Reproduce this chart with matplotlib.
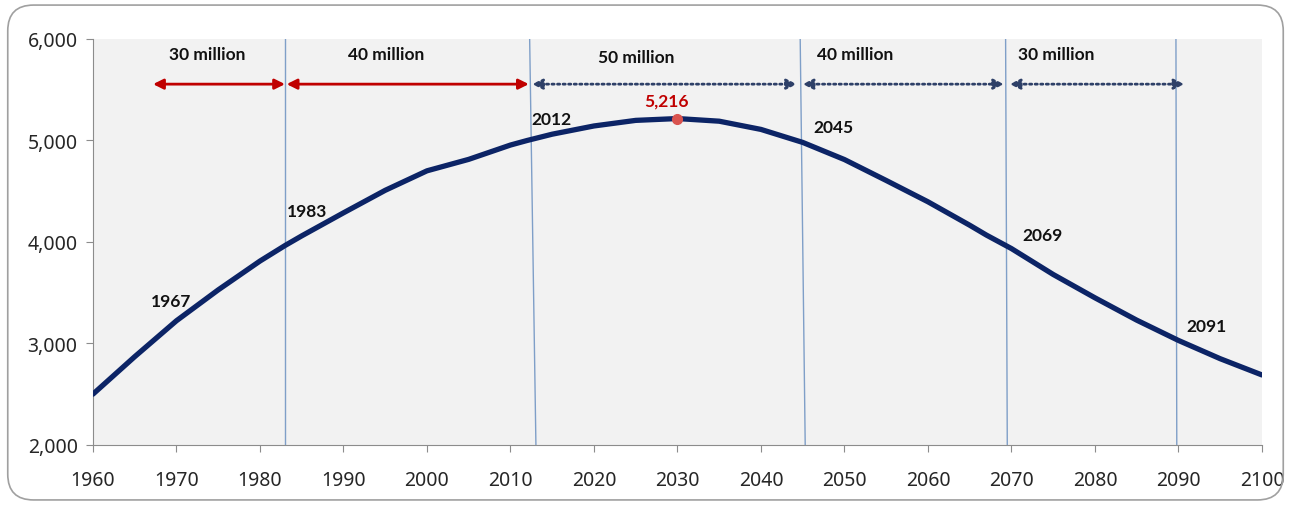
import matplotlib.pyplot as plt
from matplotlib.patches import FancyBboxPatch

# population (10k persons)
years = [1960, 1965, 1970, 1975, 1980, 1983, 1985, 1990, 1995, 2000, 2005,
         2010, 2012, 2015, 2020, 2025, 2030, 2035, 2040, 2045, 2050, 2055,
         2060, 2065, 2067, 2070, 2075, 2080, 2085, 2090, 2095, 2100]
population = [2501, 2870, 3224, 3528, 3812, 3965, 4060, 4287, 4509, 4701, 4814,
              4955, 5000, 5062, 5143, 5198, 5216, 5190, 5109, 4981, 4812, 4606,
              4396, 4165, 4068, 3935, 3680, 3450, 3230, 3030, 2850, 2690]

peak_year, peak_value = 2030, 5216

# milestone years where population crosses 30/40/50 million
milestones = ["1967", "1983", "2012", "2045", "2069", "2091"]
milestone_pos = [(1969.3, 3419), (1985.7, 4306), (2014.9, 5212),
                 (2048.7, 5133), (2073.7, 4069), (2093.4, 3172)]

# vertical period dividers (top x, bottom x)
divider_top = [1983.0, 2012.3, 2044.7, 2069.3, 2089.7]
divider_bottom = [1983.0, 2013.05, 2045.3, 2069.5, 2089.8]

# period spans
span_labels = ["30 million", "40 million", "50 million", "40 million", "30 million"]
span_start = [1967.2, 1983.2, 2012.6, 2045.0, 2069.8]
span_end = [1983.0, 2012.2, 2044.3, 2069.1, 2090.7]
span_growing = [True, True, False, False, False]

navy = "#0c2466"
red = "#c00000"
bold_font = "Lato"

fig = plt.figure(figsize=(12.91, 5.06), dpi=100)
fig.patches.append(FancyBboxPatch((0.006, 0.01), 0.988, 0.978,
                                  boxstyle="round,pad=0,rounding_size=0.02",
                                  transform=fig.transFigure, facecolor="none",
                                  edgecolor="#a0a0a0", linewidth=1.2, mutation_aspect=2.55))
ax = fig.add_axes([0.072, 0.1186, 0.9055, 0.8024])
ax.set_facecolor("#f2f2f2")

for xt, xb in zip(divider_top, divider_bottom):
    ax.plot([xb, xt], [2000, 6000], color="#7f9fc8", lw=1, zorder=1)

ax.plot(years, population, color=navy, lw=3.8, solid_capstyle="round",
        solid_joinstyle="round", zorder=3)
ax.plot([peak_year], [peak_value], "o", color="#d9534f", ms=7, zorder=4)
ax.text(peak_year - 1.3, peak_value + 175, f"{peak_value:,}", color=red,
        fontsize=12.5, fontweight="bold", family=bold_font, ha="center", va="center")

for lab, (x, y) in zip(milestones, milestone_pos):
    ax.text(x, y, lab, fontsize=12.5, fontweight="bold", family=bold_font,
            ha="center", va="center", color="#111111", zorder=5)

arrow_y = 5555
for i, lab in enumerate(span_labels):
    if span_growing[i]:
        props = dict(arrowstyle="<|-|>,head_length=0.6,head_width=0.3",
                     color=red, lw=2, shrinkA=0, shrinkB=0)
    else:
        props = dict(arrowstyle="<|-|>,head_length=0.6,head_width=0.3",
                     color="#2e4068", lw=2, linestyle=(0, (0.8, 1.2)),
                     shrinkA=0, shrinkB=0)
    ax.annotate("", xy=(span_end[i], arrow_y), xytext=(span_start[i], arrow_y),
                arrowprops=props, zorder=5)

label_x = [1973.7, 1995.1, 2025.1, 2051.3, 2075.4]
label_y = [5852, 5852, 5823, 5852, 5852]
for lab, x, y in zip(span_labels, label_x, label_y):
    ax.text(x, y, lab, fontsize=12.5, fontweight="bold", family=bold_font,
            ha="center", va="center", color="#111111")

ax.set_xlim(1960, 2100)
ax.set_ylim(2000, 6000)
ax.set_xticks(range(1960, 2101, 10))
ax.set_yticks(range(2000, 6001, 1000))
ax.set_yticklabels([f"{v:,}" for v in range(2000, 6001, 1000)])
for s in ["top", "right"]:
    ax.spines[s].set_visible(False)
for s in ["left", "bottom"]:
    ax.spines[s].set_color("#8c8c8c")
ax.tick_params(axis="both", direction="out", color="#8c8c8c", length=5,
               labelsize=14, labelcolor="#262626")
ax.tick_params(axis="x", pad=13)
ax.tick_params(axis="y", pad=6)
for t in ax.get_xticklabels() + ax.get_yticklabels():
    t.set_family("Noto Sans")

fig.savefig("out.png", dpi=100)
